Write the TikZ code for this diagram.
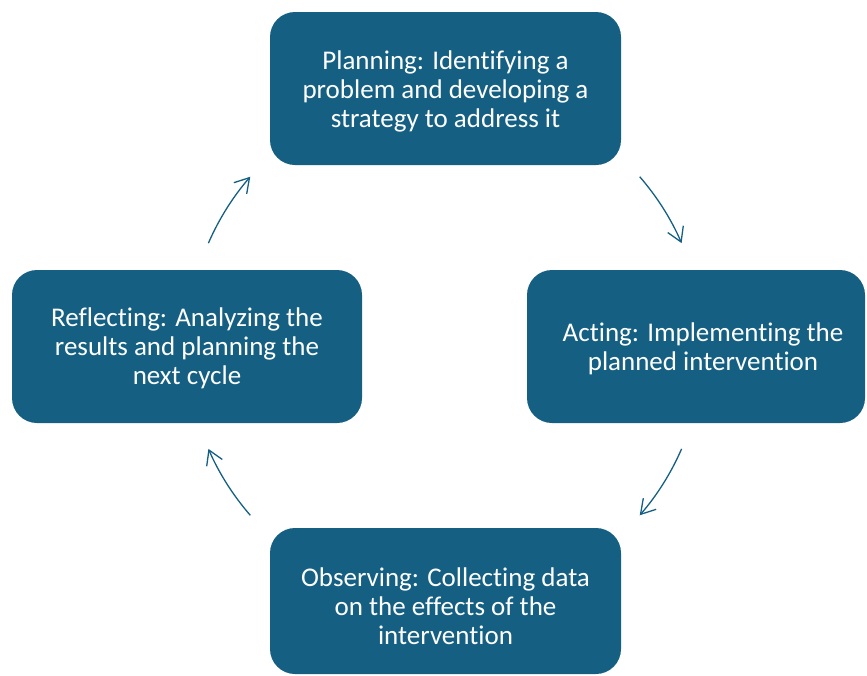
\documentclass[tikz,border=0pt]{standalone}
\usepackage{fontspec}
\setmainfont[Ligatures=NoCommon]{Carlito}
\usetikzlibrary{arrows.meta}
\definecolor{tealbox}{HTML}{156082}
\begin{document}
\begin{tikzpicture}[x=1pt,y=-1pt,
  box/.style={fill=tealbox, rounded corners=25pt, inner sep=0pt},
  txt/.style={text=white, align=center, inner sep=0pt, font=\fontsize{27}{29}\selectfont},
  cyc/.style={draw=tealbox, line width=1.3pt, -{Straight Barb[length=14pt,width=17pt]}}]
\useasboundingbox (0,0) rectangle (867,675);
% boxes
\node[box, minimum width=351pt, minimum height=153pt] (plan) at (445.5,88.5) {};
\node[box, minimum width=338pt, minimum height=153pt] (act) at (696,346.5) {};
\node[box, minimum width=351pt, minimum height=146pt] (obs) at (445.5,601) {};
\node[box, minimum width=350pt, minimum height=153pt] (refl) at (187,346.5) {};
% texts
\node[txt] (planT) at (445.5,91) {Planning: Identifying a\\problem and developing a\\strategy to address it};
\node[txt] (actT) at (703,348.5) {Acting: Implementing the\\planned intervention};
\node[txt] (obsT) at (445.5,606.5) {Observing: Collecting data\\on the effects of the\\intervention};
\node[txt] (reflT) at (187,348.5) {Reflecting: Analyzing the\\results and planning the\\next cycle};
% cycle arrows on a circle
\coordinate (ctr) at (445,346);
\path (ctr) ++(-41:258) coordinate (a1);
\path (ctr) ++(23.5:258) coordinate (a2);
\path (ctr) ++(139:258) coordinate (a3);
\path (ctr) ++(-156.5:258) coordinate (a4);
\draw[cyc] (a1) arc[start angle=-41, end angle=-23.5, radius=258];
\draw[cyc] (a2) arc[start angle=23.5, end angle=41, radius=258];
\draw[cyc] (a3) arc[start angle=139, end angle=156.5, radius=258];
\draw[cyc] (a4) arc[start angle=-156.5, end angle=-139, radius=258];
\end{tikzpicture}
\end{document}
